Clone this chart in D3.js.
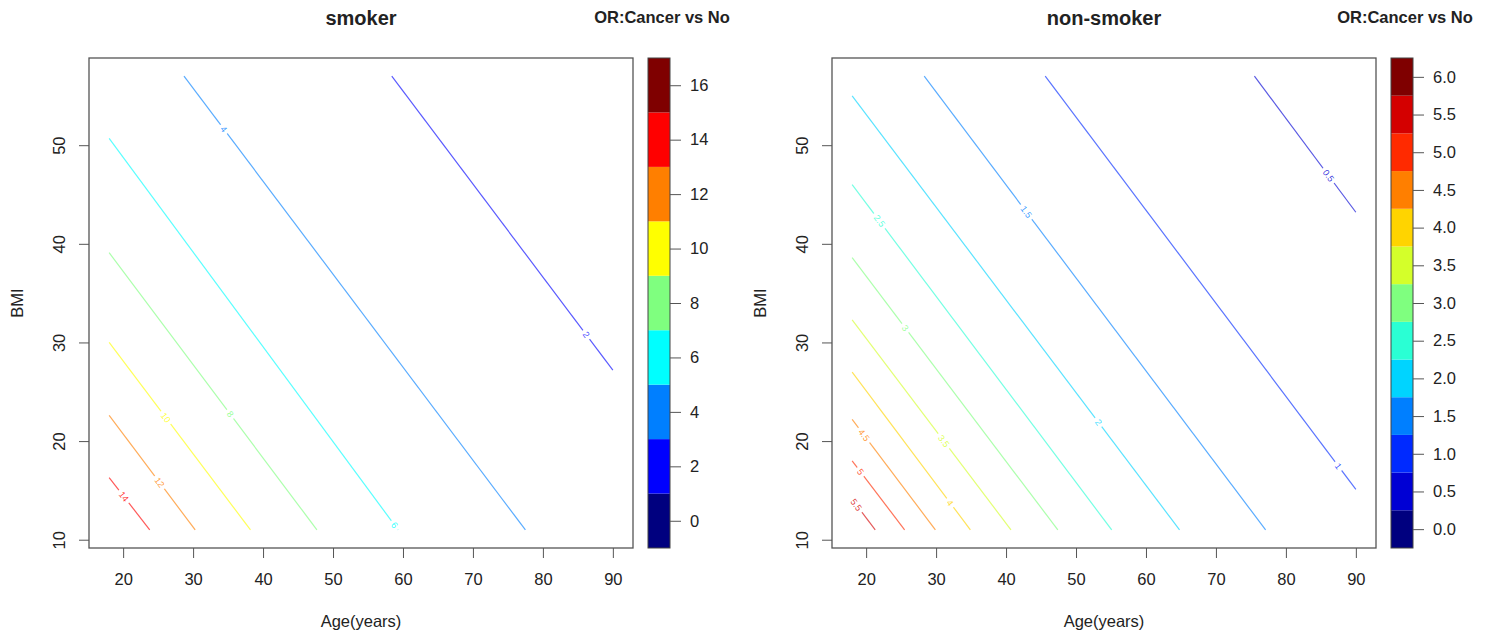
<html>
<head>
<script src="https://d3js.org/d3.v7.min.js"></script>
<title>OR contour</title>
<style>
  body { margin: 0; background: #fff; }
  text { font-family: "Liberation Sans", Arial, sans-serif; fill: #222; }
</style>
</head>
<body>
<div class="viz"></div>
<script type="text/javascript">
// axis ticks
var ageTicks = [20, 30, 40, 50, 60, 70, 80, 90];
var bmiTicks = [10, 20, 30, 40, 50];
var ageRange = [18, 90];
var bmiRange = [11, 57];

// smoker contour lines (start / end points in data units)
var smokerLevels   = [2, 4, 6, 8, 10, 12, 14];
var smokerStartAge = [58.4, 28.7, 18, 18, 18, 18, 18];
var smokerStartBmi = [57, 57, 50.7, 39.1, 30.0, 22.6, 16.3];
var smokerEndAge   = [90, 77.5, 59.3, 47.7, 38.2, 30.3, 23.8];
var smokerEndBmi   = [27.2, 11, 11, 11, 11, 11, 11];
var smokerLabelAge = [86.2, 34.4, 58.8, 35.3, 26.1, 25.2, 20.1];
var smokerBreaks   = [-1, 1, 3, 5, 7, 9, 11, 13, 15, 17];
var smokerKeyTicks = [0, 2, 4, 6, 8, 10, 12, 14, 16];

// non-smoker contour lines
var nonLevels   = [0.5, 1, 1.5, 2, 2.5, 3, 3.5, 4, 4.5, 5, 5.5];
var nonStartAge = [75.5, 45.6, 28.3, 18, 18, 18, 18, 18, 18, 18, 18];
var nonStartBmi = [57, 57, 57, 55.0, 46.0, 38.6, 32.3, 27.0, 22.2, 18.0, 14.1];
var nonEndAge   = [90, 90, 77.1, 64.8, 55.1, 47.4, 40.7, 34.9, 29.9, 25.5, 21.3];
var nonEndBmi   = [43.2, 15.1, 11, 11, 11, 11, 11, 11, 11, 11, 11];
var nonLabelAge = [86.1, 87.5, 42.9, 53.2, 21.9, 25.6, 31.1, 32.0, 19.7, 19.2, 18.6];
var nonBreaks   = [-0.25, 0.25, 0.75, 1.25, 1.75, 2.25, 2.75, 3.25, 3.75, 4.25, 4.75, 5.25, 5.75, 6.25];
var nonKeyTicks = [0, 0.5, 1, 1.5, 2, 2.5, 3, 3.5, 4, 4.5, 5, 5.5, 6];

var jet = ["#00007F", "#0000FF", "#007FFF", "#00FFFF", "#7FFF7F", "#FFFF00", "#FF7F00", "#FF0000", "#7F0000"];

function palette(n) {
    var s = d3.scaleLinear()
        .domain(d3.range(jet.length))
        .range(jet)
        .interpolate(d3.interpolateRgb);
    return d3.range(n).map(function(i){ return s(n == 1 ? 0 : i * (jet.length - 1) / (n - 1)); });
}

var vizWidth = 1491, vizHeight = 635;
var svg = d3.select("div.viz").append("svg")
    .attr("width", vizWidth)
    .attr("height", vizHeight);

function panel(offsetX, title, levels, sAge, sBmi, eAge, eBmi, lAge, breaks, keyTicks, keyFmt) {
    var left = 89 + offsetX, right = 633 + offsetX, top = 58, bottom = 548;
    var padA = (ageRange[1] - ageRange[0]) * 0.04;
    var padB = (bmiRange[1] - bmiRange[0]) * 0.04;
    var x = d3.scaleLinear().domain([ageRange[0] - padA, ageRange[1] + padA]).range([left, right]);
    var y = d3.scaleLinear().domain([bmiRange[0] - padB, bmiRange[1] + padB]).range([bottom, top]);

    var colors = palette(breaks.length - 1);
    function levelColor(v) {
        for (var i = 0; i < breaks.length - 1; i++) {
            if (v >= breaks[i] && v < breaks[i + 1]) return colors[i];
        }
        return colors[colors.length - 1];
    }

    var g = svg.append("g");

    // contour lines
    var lines = g.selectAll("g.level")
        .data(levels)
        .enter()
        .append("g")
        .attr("class", "level");

    lines.append("line")
        .attr("x1", function(d, i){ return x(sAge[i]); })
        .attr("y1", function(d, i){ return y(sBmi[i]); })
        .attr("x2", function(d, i){ return x(eAge[i]); })
        .attr("y2", function(d, i){ return y(eBmi[i]); })
        .attr("stroke", function(d){ return levelColor(d); })
        .attr("stroke-opacity", 0.65)
        .attr("stroke-width", 1.2);

    // labels along the lines
    lines.each(function(d, i) {
        var t = (lAge[i] - sAge[i]) / (eAge[i] - sAge[i]);
        var bmi = sBmi[i] + t * (eBmi[i] - sBmi[i]);
        var px = x(lAge[i]), py = y(bmi);
        var ang = Math.atan2(y(eBmi[i]) - y(sBmi[i]), x(eAge[i]) - x(sAge[i])) * 180 / Math.PI;
        var lg = d3.select(this).append("g")
            .attr("transform", "translate(" + px + "," + py + ") rotate(" + ang + ")");
        var bg = lg.append("rect");
        var txt = lg.append("text")
            .attr("text-anchor", "middle")
            .attr("dy", "0.35em")
            .style("font-size", "9px")
            .style("fill", levelColor(d))
            .style("fill-opacity", 0.8)
            .text(d);
        var w = txt.node().getComputedTextLength();
        bg.attr("x", -w / 2 - 3).attr("y", -3).attr("width", w + 6).attr("height", 6).attr("fill", "#fff");
    });

    // frame
    g.append("rect")
        .attr("x", left).attr("y", top)
        .attr("width", right - left).attr("height", bottom - top)
        .attr("fill", "none").attr("stroke", "#555").attr("stroke-width", 1.3);

    // x axis
    var xa = g.append("g")
        .attr("transform", "translate(0," + bottom + ")")
        .call(d3.axisBottom(x).tickValues(ageTicks).tickSize(10).tickPadding(15));
    xa.select(".domain").remove();
    xa.selectAll("line").attr("stroke", "#555");
    xa.selectAll("text").style("font-size", "16.5px").style("fill", "#222");

    // y axis
    var ya = g.append("g")
        .attr("transform", "translate(" + left + ",0)")
        .call(d3.axisLeft(y).tickValues(bmiTicks).tickSize(10));
    ya.select(".domain").remove();
    ya.selectAll("line").attr("stroke", "#555");
    ya.selectAll("text")
        .attr("x", null).attr("dy", null)
        .attr("text-anchor", "middle")
        .attr("transform", "translate(-24,0) rotate(-90)")
        .style("font-size", "16.5px").style("fill", "#222");

    // axis titles
    g.append("text")
        .attr("x", (left + right) / 2).attr("y", 627)
        .attr("text-anchor", "middle")
        .style("font-size", "16.5px")
        .text("Age(years)");
    g.append("text")
        .attr("transform", "translate(" + (23 + offsetX) + "," + ((top + bottom) / 2) + ") rotate(-90)")
        .attr("text-anchor", "middle")
        .style("font-size", "16.5px")
        .text("BMI");

    // title
    g.append("text")
        .attr("x", (left + right) / 2).attr("y", 25)
        .attr("text-anchor", "middle")
        .style("font-size", "20px").style("font-weight", "bold")
        .text(title);

    // colour key
    var kx0 = 648 + offsetX, kx1 = 670 + offsetX;
    var ky = d3.scaleLinear().domain([breaks[0], breaks[breaks.length - 1]]).range([bottom, top]);
    var key = g.append("g");
    key.selectAll("rect.band")
        .data(d3.range(breaks.length - 1))
        .enter()
        .append("rect")
        .attr("class", "band")
        .attr("x", kx0)
        .attr("width", kx1 - kx0)
        .attr("y", function(i){ return ky(breaks[i + 1]); })
        .attr("height", function(i){ return ky(breaks[i]) - ky(breaks[i + 1]); })
        .attr("fill", function(i){ return colors[i]; });
    key.append("rect")
        .attr("x", kx0).attr("y", top)
        .attr("width", kx1 - kx0).attr("height", bottom - top)
        .attr("fill", "none").attr("stroke", "#444").attr("stroke-width", 1);
    var ka = key.append("g")
        .attr("transform", "translate(" + kx1 + ",0)")
        .call(d3.axisRight(ky).tickValues(keyTicks).tickSize(11).tickPadding(9).tickFormat(d3.format(keyFmt)));
    ka.select(".domain").remove();
    ka.selectAll("line").attr("stroke", "#555");
    ka.selectAll("text").style("font-size", "16.5px").style("fill", "#222");

    g.append("text")
        .attr("x", 662 + offsetX).attr("y", 23)
        .attr("text-anchor", "middle")
        .style("font-size", "16.5px").style("font-weight", "bold")
        .text("OR:Cancer vs No");
}

panel(0, "smoker", smokerLevels, smokerStartAge, smokerStartBmi, smokerEndAge, smokerEndBmi,
      smokerLabelAge, smokerBreaks, smokerKeyTicks, "d");
panel(743, "non-smoker", nonLevels, nonStartAge, nonStartBmi, nonEndAge, nonEndBmi,
      nonLabelAge, nonBreaks, nonKeyTicks, ".1f");
</script>
</body>
</html>
